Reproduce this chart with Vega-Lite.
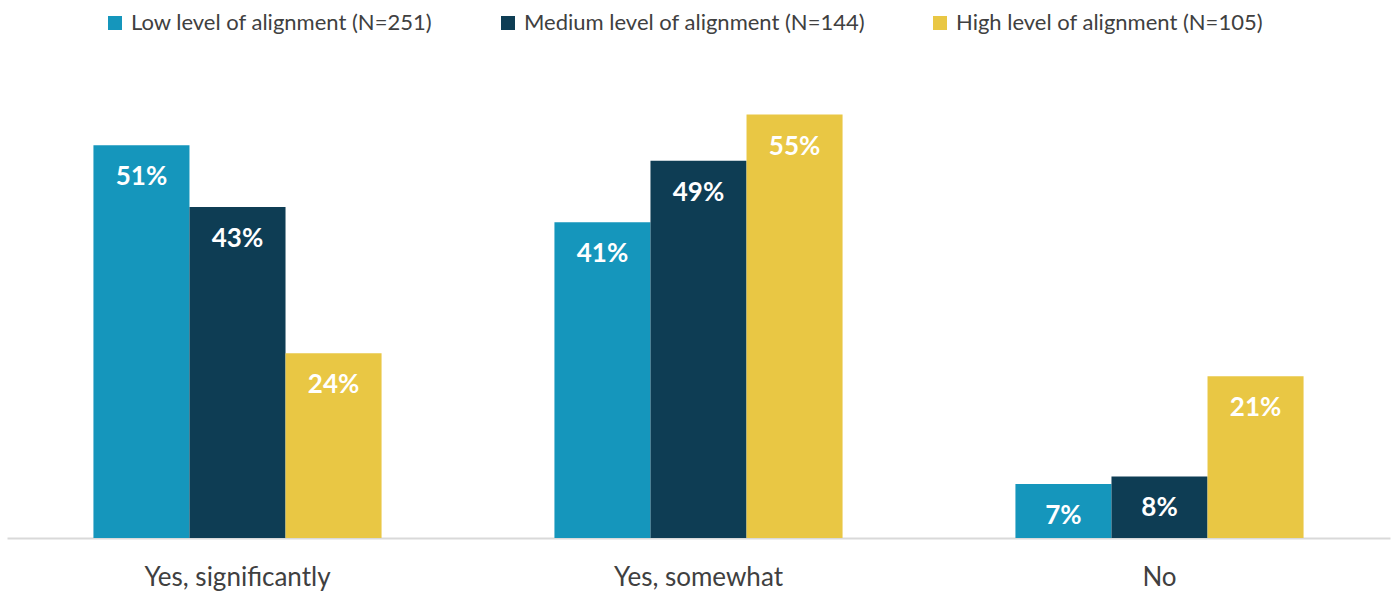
{
  "$schema": "https://vega.github.io/schema/vega-lite/v6.json",
  "width": 1383,
  "height": 462,
  "autosize": {"type": "none"},
  "padding": {"left": 7, "top": 76, "right": 7, "bottom": 53},
  "background": "white",
  "config": {
    "view": {"stroke": null},
    "font": "Lato"
  },
  "data": {
    "values": [
      {"answer": "Yes, significantly", "group": "Low level of alignment (N=251)", "value": 0.51},
      {"answer": "Yes, significantly", "group": "Medium level of alignment (N=144)", "value": 0.43},
      {"answer": "Yes, significantly", "group": "High level of alignment (N=105)", "value": 0.24},
      {"answer": "Yes, somewhat", "group": "Low level of alignment (N=251)", "value": 0.41},
      {"answer": "Yes, somewhat", "group": "Medium level of alignment (N=144)", "value": 0.49},
      {"answer": "Yes, somewhat", "group": "High level of alignment (N=105)", "value": 0.55},
      {"answer": "No", "group": "Low level of alignment (N=251)", "value": 0.07},
      {"answer": "No", "group": "Medium level of alignment (N=144)", "value": 0.08},
      {"answer": "No", "group": "High level of alignment (N=105)", "value": 0.21}
    ]
  },
  "encoding": {
    "x": {
      "field": "answer",
      "type": "nominal",
      "sort": ["Yes, significantly", "Yes, somewhat", "No"],
      "scale": {"paddingInner": 0.375, "paddingOuter": 0.1875},
      "axis": {
        "title": null,
        "labelAngle": 0,
        "labelFontSize": 26,
        "labelLimit": 500,
        "labelColor": "#404040",
        "labelPadding": 26,
        "ticks": false,
        "domainColor": "#d9d9d9",
        "domainWidth": 2
      }
    },
    "xOffset": {
      "field": "group",
      "type": "nominal",
      "sort": ["Low level of alignment (N=251)", "Medium level of alignment (N=144)", "High level of alignment (N=105)"],
      "scale": {"paddingInner": 0, "paddingOuter": 0}
    },
    "y": {
      "field": "value",
      "type": "quantitative",
      "scale": {"domain": [0, 0.6]},
      "axis": null
    }
  },
  "layer": [
    {
      "mark": {"type": "bar"},
      "encoding": {
        "color": {
          "field": "group",
          "type": "nominal",
          "sort": ["Low level of alignment (N=251)", "Medium level of alignment (N=144)", "High level of alignment (N=105)"],
          "scale": {
            "domain": ["Low level of alignment (N=251)", "Medium level of alignment (N=144)", "High level of alignment (N=105)"],
            "range": ["#1596bc", "#0e3d54", "#e9c744"]
          },
          "legend": {
            "title": null,
            "orient": "none",
            "legendX": 97,
            "legendY": -64,
            "direction": "horizontal",
            "columns": 3,
            "symbolType": "square",
            "symbolSize": 196,
            "symbolStrokeWidth": 0,
            "labelFontSize": 22,
            "labelLimit": 500,
            "labelColor": "#404040",
            "labelOffset": 5,
            "columnPadding": 64
          }
        }
      }
    },
    {
      "mark": {"type": "text", "color": "white", "fontWeight": "bold", "fontSize": 26, "baseline": "middle", "dy": 32},
      "encoding": {
        "text": {"field": "value", "type": "quantitative", "format": ".0%"},
        "detail": {"field": "group"}
      }
    }
  ]
}
